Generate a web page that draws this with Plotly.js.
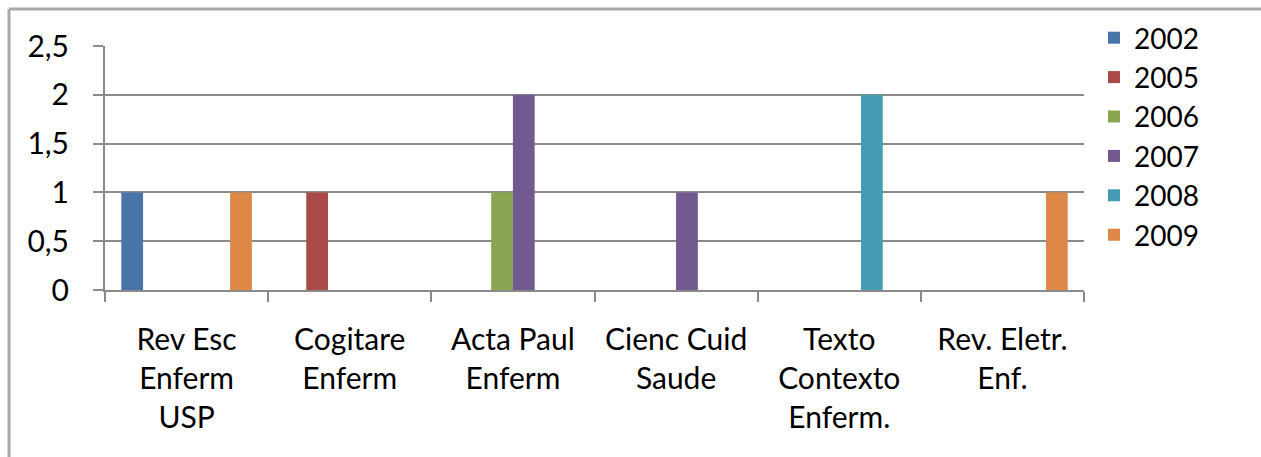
<!DOCTYPE html>
<html>
<head>
<meta charset="utf-8">
<script src="https://cdn.plot.ly/plotly-3.0.1.min.js"></script>
<style>html,body{margin:0;padding:0;background:#fff;}#chart{width:1261px;height:457px;}</style>
</head>
<body>
<div id="chart"></div>
<script>
const categories = ["Rev Esc<br>Enferm<br>USP", "Cogitare<br>Enferm", "Acta Paul<br>Enferm", "Cienc Cuid<br>Saude", "Texto<br>Contexto<br>Enferm.", "Rev. Eletr.<br>Enf."];
const seriesNames = ["2002", "2005", "2006", "2007", "2008", "2009"];
const v2002 = [1, null, null, null, null, null];
const v2005 = [null, 1, null, null, null, null];
const v2006 = [null, null, 1, null, null, null];
const v2007 = [null, null, 2, 1, null, null];
const v2008 = [null, null, null, null, 2, null];
const v2009 = [1, null, null, null, null, 1];
const seriesValues = [v2002, v2005, v2006, v2007, v2008, v2009];
const colors = ["#4874a8", "#aa4a48", "#8ba653", "#725a91", "#469db3", "#dc8746"];
const yTicks = [0, 0.5, 1, 1.5, 2, 2.5];
const yTickText = ["0", "0,5", "1", "1,5", "2", "2,5"];

const W = 1261, H = 457;
const m = {l: 105, r: 177, t: 46, b: 167};
const pw = W - m.l - m.r, ph = H - m.t - m.b;
const px = x => (x - m.l) / pw;
const py = y => 1 - (y - m.t) / ph;

const traces = seriesNames.map((n, i) => ({
  type: "bar",
  name: n,
  x: categories,
  y: seriesValues[i],
  marker: {color: colors[i]},
  hoverinfo: "none"
}));

const font = {family: "Lato, 'Open Sans', sans-serif", size: 30, color: "#000"};
const legendFont = {family: "Lato, 'Open Sans', sans-serif", size: 28, color: "#000"};
const layout = {
  width: W, height: H,
  margin: m,
  paper_bgcolor: "#fff", plot_bgcolor: "#fff",
  barmode: "group", bargap: 0.2, bargroupgap: 0,
  font: font,
  showlegend: true,
  legend: {x: px(1094), y: py(13), xanchor: "left", yanchor: "top", font: legendFont, tracegroupgap: 0, maxheight: 420, bgcolor: "rgba(0,0,0,0)"},
  xaxis: {
    type: "category",
    showgrid: false,
    showline: true, linecolor: "#8a8a8a", linewidth: 2,
    ticks: "outside", tickson: "boundaries", ticklen: 10, tickwidth: 2, tickcolor: "#8a8a8a",
    tickfont: font, ticklabelstandoff: 22,
    tickangle: 0,
    zeroline: false, fixedrange: true
  },
  yaxis: {
    range: [0, 2.5],
    tickvals: yTicks, ticktext: yTickText,
    showgrid: true, gridcolor: "#8a8a8a", gridwidth: 2,
    showline: true, linecolor: "#8a8a8a", linewidth: 2,
    ticks: "outside", ticklen: 10, tickwidth: 2, tickcolor: "#8a8a8a",
    tickfont: font, ticklabelstandoff: 18,
    zeroline: false, fixedrange: true
  },
  shapes: [
    {type: "line", xref: "paper", yref: "paper", x0: px(9), x1: px(W + 5), y0: py(9), y1: py(9), line: {color: "#a8a8a8", width: 3}},
    {type: "line", xref: "paper", yref: "paper", x0: px(9), x1: px(9), y0: py(9), y1: py(H + 5), line: {color: "#a8a8a8", width: 3}}
  ]
};

Plotly.newPlot("chart", traces, layout, {staticPlot: true, displayModeBar: false});
</script>
</body>
</html>
